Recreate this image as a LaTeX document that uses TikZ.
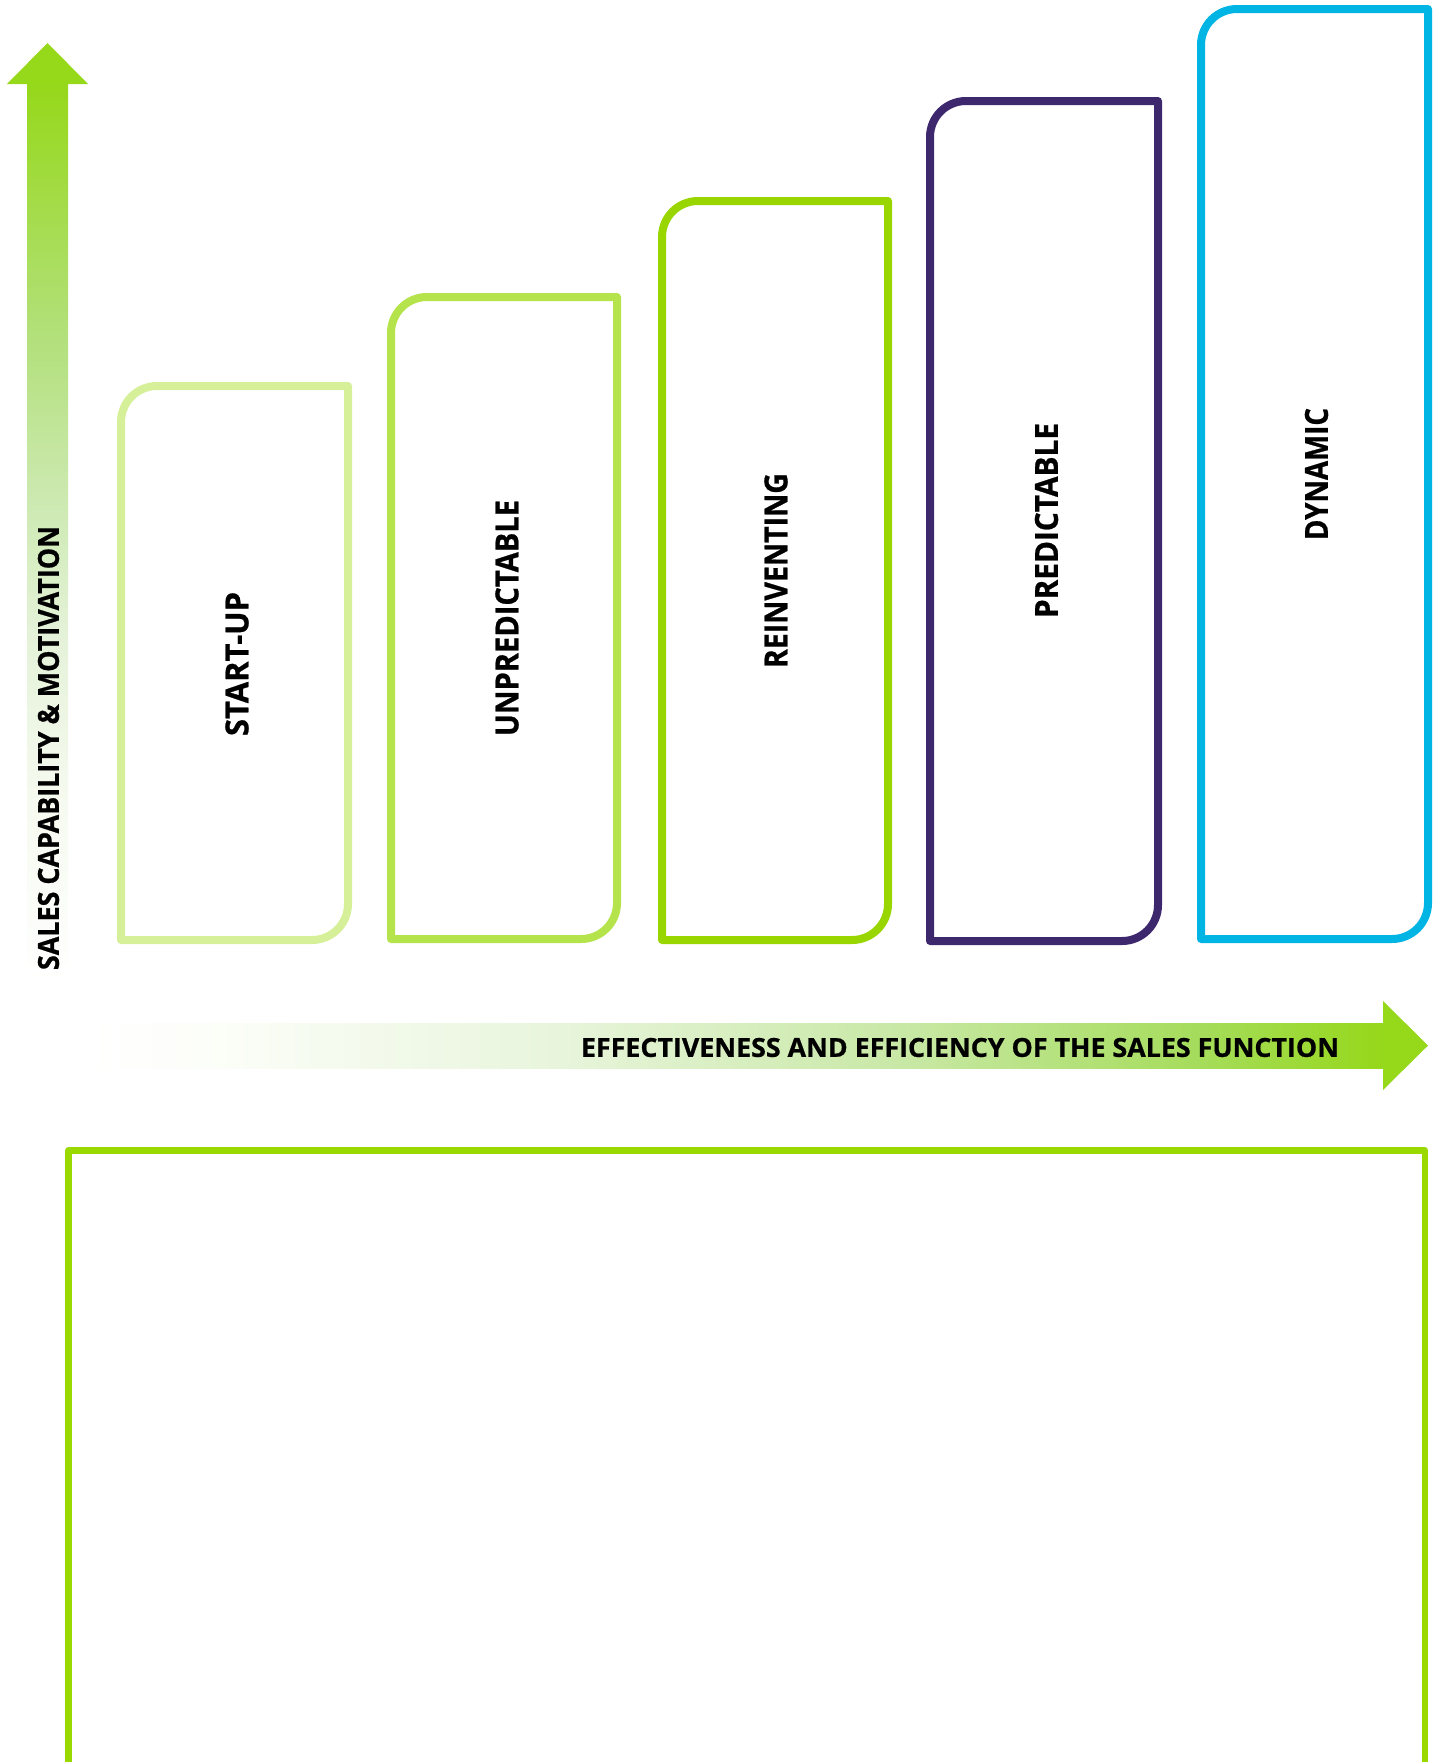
\documentclass[tikz,border=0pt]{standalone}
\usepackage{graphicx}
\usepackage{fontspec}
\setsansfont{Open Sans}[BoldFeatures={FakeBold=0.8}]
\definecolor{arrowgreen}{RGB}{150,216,26}
\definecolor{stageA}{RGB}{214,240,154}
\definecolor{stageB}{RGB}{181,227,76}
\definecolor{stageC}{RGB}{153,214,0}
\definecolor{stageD}{RGB}{61,39,109}
\definecolor{stageE}{RGB}{0,180,228}
\definecolor{frameg}{RGB}{153,217,0}
\definecolor{vgA}{RGB}{246,250,240}
\definecolor{vgB}{RGB}{228,242,216}
\definecolor{vgC}{RGB}{204,233,176}
\definecolor{vgD}{RGB}{178,224,122}
\definecolor{hgA}{RGB}{232,245,220}
\definecolor{hgB}{RGB}{200,232,165}
\definecolor{hgC}{RGB}{165,220,90}
% TikZ maps the path's bounding box onto 25bp..75bp of a shading
\pgfdeclareverticalshading{vgrad}{100bp}{color(0bp)=(white); color(25bp)=(white); color(35bp)=(vgA); color(44.5bp)=(vgB); color(52bp)=(vgC); color(61bp)=(vgD); color(75bp)=(arrowgreen); color(100bp)=(arrowgreen)}
\pgfdeclarehorizontalshading{hgrad}{100bp}{color(0bp)=(white); color(25bp)=(white); color(30bp)=(white!97!arrowgreen); color(43bp)=(hgA); color(56.5bp)=(hgB); color(68bp)=(hgC); color(75bp)=(arrowgreen); color(100bp)=(arrowgreen)}
\newcommand\stagebox[5]{%
  \draw[#1, line width=8pt, line join=round]
    (#2,#5) -- (#2,{#3+36}) .. controls (#2,{#3+16.1}) and ({#2+16.1},#3) .. ({#2+36},#3)
    -- (#4,#3) -- (#4,{#5-36}) .. controls (#4,{#5-16.1}) and ({#4-16.1},#5) .. ({#4-36},#5)
    -- cycle;}
\tikzset{
  stagelabel/.style={rotate=90, inner sep=0pt, outer sep=0pt, anchor=center, text=black, font=\sffamily\bfseries},
  axislabel/.style={inner sep=0pt, outer sep=0pt, anchor=center, text=black, font=\sffamily\bfseries}
}
\begin{document}
\begin{tikzpicture}[x=1pt,y=-1pt]
\useasboundingbox (0,0) rectangle (1438,1762);
\fill[white] (0,0) rectangle (1438,1762);
% vertical axis arrow
\shade[shading=vgrad] (27,83) rectangle (68,982);
\fill[arrowgreen] (7,84) -- (47.5,43) -- (88,84) -- cycle;
\node[stagelabel] (yaxis) at (48.5,748) {\resizebox{444pt}{21pt}{SALES CAPABILITY \& MOTIVATION}};
% stage boxes
\stagebox{stageA}{121}{386}{348}{940}
\stagebox{stageB}{391}{297}{617}{939}
\stagebox{stageC}{662}{201}{888}{940}
\stagebox{stageD}{930}{101}{1158}{941}
\stagebox{stageE}{1201}{9}{1428}{939}
\node[stagelabel] (startup) at (237,664) {\resizebox{144pt}{23pt}{START-UP}};
\node[stagelabel] (unpred) at (507,618) {\resizebox{236pt}{23pt}{UNPREDICTABLE}};
\node[stagelabel] (reinv) at (776,570.5) {\resizebox{195pt}{23pt}{REINVENTING}};
\node[stagelabel] (pred) at (1046.5,520.5) {\resizebox{195pt}{23pt}{PREDICTABLE}};
\node[stagelabel] (dyn) at (1316.5,474) {\resizebox{132pt}{23pt}{DYNAMIC}};
% horizontal axis arrow
\shade[shading=hgrad] (90,1023) rectangle (1384,1068);
\fill[arrowgreen] (1383,1001) -- (1428,1045.5) -- (1383,1090) -- cycle;
\node[axislabel] (xaxis) at (960,1047.5) {\resizebox{758pt}{19pt}{EFFECTIVENESS AND EFFICIENCY OF THE SALES FUNCTION}};
% bottom frame
\draw[frameg, line width=6.5pt, line join=round] (68.5,1762) -- (68.5,1150.5) -- (1425,1150.5) -- (1425,1762);
\end{tikzpicture}
\end{document}
